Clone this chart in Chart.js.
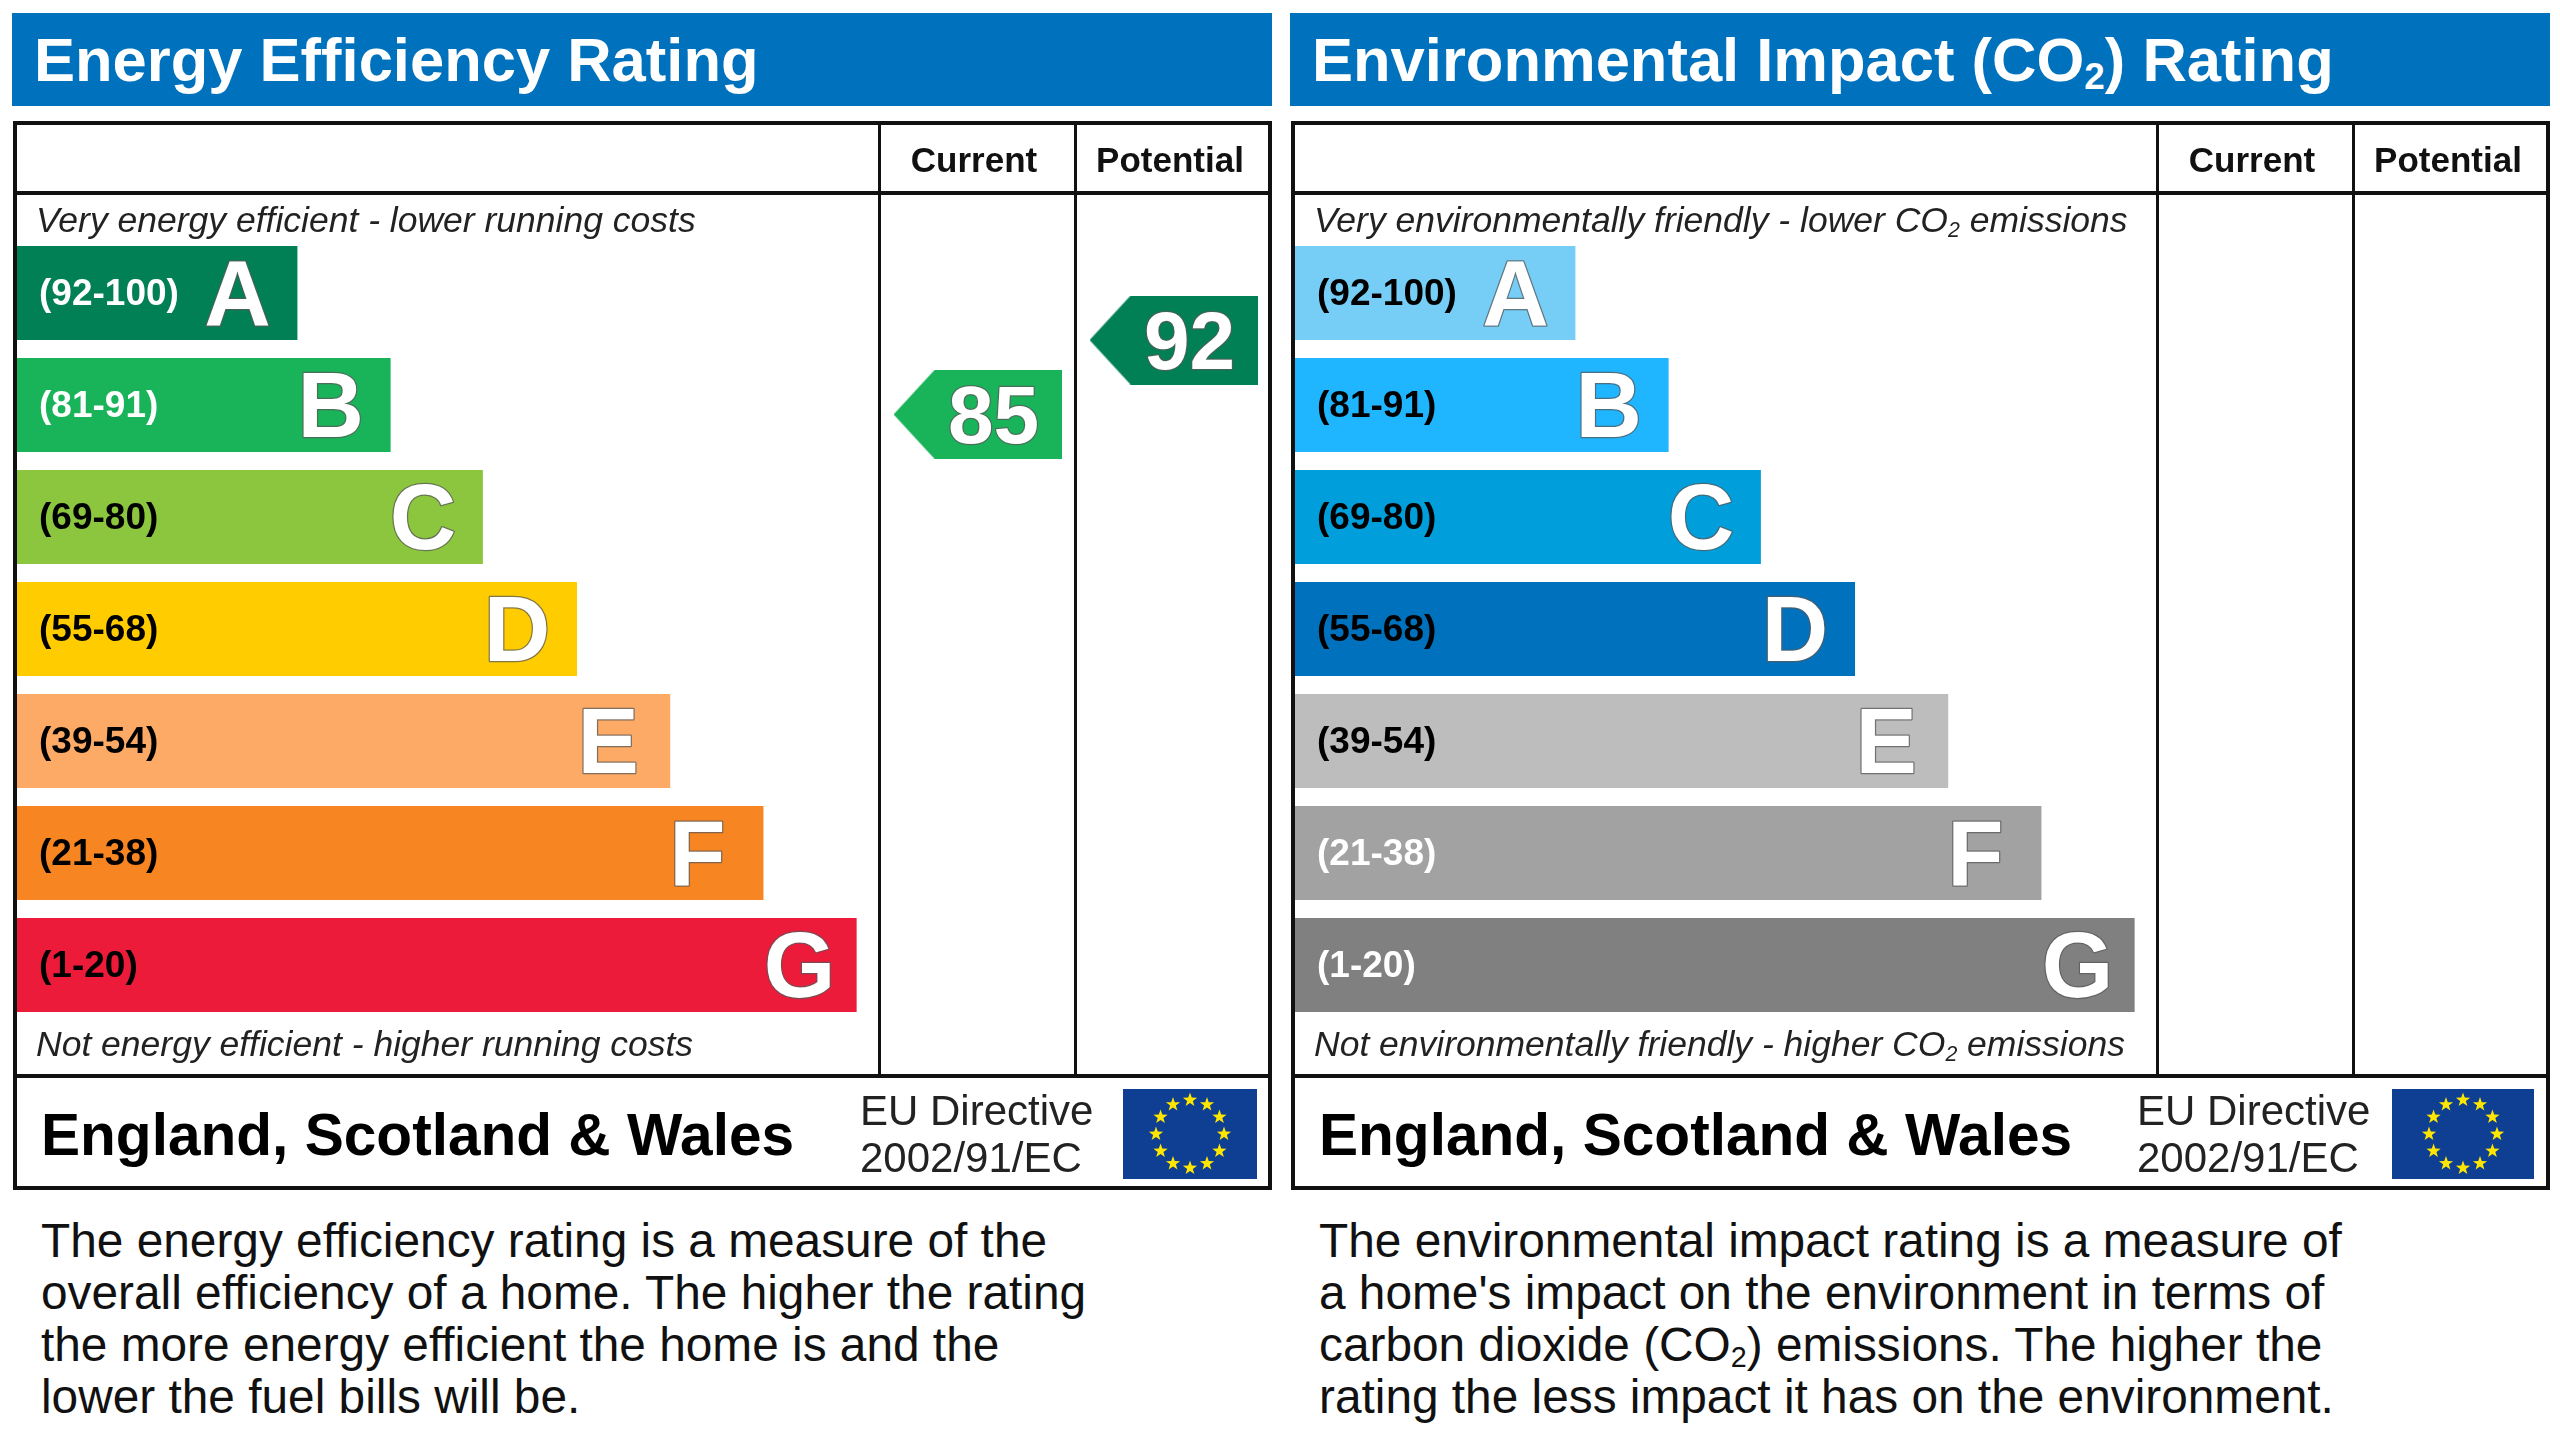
<!DOCTYPE html>
<html>
<head>
<meta charset="utf-8">
<title>Energy Efficiency and Environmental Impact Ratings</title>
<script src="https://cdn.jsdelivr.net/npm/chart.js@4"></script>
<style>
	html, body { margin: 0; background: #fff; overflow: hidden; }
	body { width: 2560px; height: 1434px; position: relative; font-family: "Liberation Sans", Arial, sans-serif; color: #111; }
	.panel { position: absolute; top: 0; left: 0; width: 1280px; height: 1434px; }
	.panel > * { position: absolute; }
	.band { left: 12px; top: 13px; width: 1260px; height: 93px; background: #0071bc; }
	.box { left: 13px; top: 121px; width: 1251px; height: 1061px; border: 4px solid #111; }
	.rule { background: #111; }
	.txt { white-space: nowrap; transform: translateY(-50%); line-height: 1; }
	.txt sub { font-size: 0.6em; line-height: 0; vertical-align: -0.22em; }
	.title { font-size: 61.5px; font-weight: bold; color: #fff; }
	.head { font-size: 35px; font-weight: bold; transform: translate(-50%, -50%); }
	.note { font-size: 35.5px; font-style: italic; color: #222; }
	.region { font-size: 58.6px; font-weight: bold; color: #000; }
	.directive { font-size: 42px; color: #222; }
	.body { font-size: 47.8px; color: #111; }
</style>
</head>
<body>
<script>
// Bands, same for both charts
const bandLetters = ['A', 'B', 'C', 'D', 'E', 'F', 'G'];
const bandRanges = ['(92-100)', '(81-91)', '(69-80)', '(55-68)', '(39-54)', '(21-38)', '(1-20)'];
const bandLow = [92, 81, 69, 55, 39, 21, 1];
const bandHigh = [100, 91, 80, 68, 54, 38, 20];
const bandLengths = [3.03, 4.03, 5.02, 6.03, 7.03, 8.03, 9.03];

const energyColors = ['#008054', '#19b459', '#8cc63f', '#ffcc00', '#fcaa65', '#f78521', '#ed1b3a'];
const energyLabelColors = ['#fff', '#fff', '#000', '#000', '#000', '#000', '#000'];
const co2Colors = ['#76cef6', '#1fb6ff', '#009edb', '#0071bc', '#bdbdbd', '#a2a2a2', '#808080'];
const co2LabelColors = ['#000', '#000', '#000', '#000', '#000', '#fff', '#fff'];

// Ratings shown in the arrows (the environmental chart has none)
const energyRatings = [85, 92];
const energyRatingColumns = ['Current', 'Potential'];
const co2Ratings = [];
const co2RatingColumns = [];

const columnHeads = ['Current', 'Potential'];
const regionText = 'England, Scotland &amp; Wales';
const directiveLines = ['EU Directive', '2002/91/EC'];

const energyTitle = 'Energy Efficiency Rating';
const energyTop = 'Very energy efficient - lower running costs';
const energyBottom = 'Not energy efficient - higher running costs';
const energyBody = [
	'The energy efficiency rating is a measure of the',
	'overall efficiency of a home. The higher the rating',
	'the more energy efficient the home is and the',
	'lower the fuel bills will be.'
];

const co2Title = 'Environmental Impact (CO<sub>2</sub>) Rating';
const co2Top = 'Very environmentally friendly - lower CO<sub>2</sub> emissions';
const co2Bottom = 'Not environmentally friendly - higher CO<sub>2</sub> emissions';
const co2Body = [
	'The environmental impact rating is a measure of',
	'a home\'s impact on the environment in terms of',
	'carbon dioxide (CO<sub>2</sub>) emissions. The higher the',
	'rating the less impact it has on the environment.'
];

const FONT = '"Liberation Sans", Arial, sans-serif';
const UNITS_WIDE = 13.465;
const BAR_SHARE = 0.84;
const columnCentre = { Current: 10.327, Potential: 12.43 };
const letterInset = [60, 60, 60, 60, 62, 66, 57];

function bandIndex(rating) {
	return bandLow.findIndex((low, i) => rating >= low && rating <= bandHigh[i]);
}

// Arrow position inside its band, bottom of the bar is the low end of the range
function ratingPosition(rating) {
	const i = bandIndex(rating);
	const share = (rating - bandLow[i]) / (bandHigh[i] - bandLow[i]);
	return i + BAR_SHARE / 2 - share * BAR_SHARE;
}

function arrowSprite(color) {
	const sprite = document.createElement('canvas');
	sprite.width = 168;
	sprite.height = 89;
	const ctx = sprite.getContext('2d');
	ctx.fillStyle = color;
	ctx.beginPath();
	ctx.moveTo(0, 44.5);
	ctx.lineTo(41, 0);
	ctx.lineTo(168, 0);
	ctx.lineTo(168, 89);
	ctx.lineTo(41, 89);
	ctx.closePath();
	ctx.fill();
	return sprite;
}

function outlinedText(ctx, text, x, y) {
	ctx.lineJoin = 'round';
	ctx.lineWidth = 2.5;
	ctx.strokeStyle = 'rgba(90,90,90,0.75)';
	ctx.fillStyle = '#fff';
	ctx.strokeText(text, x, y);
	ctx.fillText(text, x, y);
}

// Big letters on the bars and numbers in the arrows
const markLabels = {
	id: 'markLabels',
	afterDatasetsDraw(chart) {
		const ctx = chart.ctx;
		ctx.save();
		ctx.textBaseline = 'middle';
		ctx.textAlign = 'center';
		ctx.font = 'bold 92px ' + FONT;
		chart.getDatasetMeta(0).data.forEach((bar, i) => {
			outlinedText(ctx, bandLetters[i], bar.x - letterInset[i], bar.y + 7);
		});
		ctx.font = 'bold 82px ' + FONT;
		const ratings = chart.data.datasets[1].data;
		chart.getDatasetMeta(1).data.forEach((point, i) => {
			outlinedText(ctx, String(ratings[i].rating), point.x + 16, point.y + 6);
		});
		ctx.restore();
	}
};

function drawChart(parent, colors, labelColors, ratings, columns) {
	const canvas = document.createElement('canvas');
	canvas.width = 1255;
	canvas.height = 784;
	canvas.style.cssText = 'left:15px;top:237px;width:1255px;height:784px';
	parent.appendChild(canvas);

	new Chart(canvas, {
		type: 'bar',
		plugins: [markLabels],
		data: {
			labels: bandRanges,
			datasets: [{
				indexAxis: 'y',
				data: bandLengths,
				backgroundColor: colors,
				borderWidth: 0,
				barPercentage: BAR_SHARE,
				categoryPercentage: 1,
				xAxisID: 'x',
				yAxisID: 'y'
			}, {
				type: 'scatter',
				data: ratings.map((rating, i) => ({
					x: columnCentre[columns[i]],
					y: ratingPosition(rating),
					rating: rating
				})),
				pointStyle: ratings.map(rating => arrowSprite(colors[bandIndex(rating)])),
				xAxisID: 'x',
				yAxisID: 'yRating'
			}]
		},
		options: {
			responsive: false,
			animation: false,
			layout: { padding: 0, autoPadding: false },
			plugins: {
				legend: { display: false },
				title: { display: false },
				tooltip: { enabled: false }
			},
			scales: {
				x: { type: 'linear', display: false, offset: false, min: 0, max: UNITS_WIDE },
				y: {
					type: 'category',
					position: 'left',
					offset: true,
					// labels sit inside the bars, so the axis takes no room
					afterFit: scale => {
						scale.width = 0;
						scale.paddingTop = 0;
						scale.paddingBottom = 0;
						scale._margins.top = 0;
						scale._margins.bottom = 0;
					},
					border: { display: false },
					grid: { display: false },
					ticks: {
						mirror: true,
						padding: 24,
						labelOffset: 2,
						z: 1,
						autoSkip: false,
						font: { family: FONT, size: 37, weight: 'bold' },
						color: ctx => labelColors[ctx.index]
					}
				},
				yRating: { type: 'linear', display: false, offset: false, reverse: true, min: -0.5, max: 6.5 }
			}
		}
	});
}

function addText(parent, cls, html, x, y) {
	const el = document.createElement('div');
	el.className = 'txt ' + cls;
	el.innerHTML = html;
	el.style.left = x + 'px';
	el.style.top = y + 'px';
	parent.appendChild(el);
}

function addRule(parent, x, y, w, h) {
	const el = document.createElement('div');
	el.className = 'rule';
	el.style.cssText = `left:${x}px;top:${y}px;width:${w}px;height:${h}px`;
	parent.appendChild(el);
}

function drawFlag(parent, x, w) {
	const flag = document.createElement('canvas');
	flag.width = w;
	flag.height = 90;
	flag.style.cssText = `left:${x}px;top:1089px;width:${w}px;height:90px`;
	parent.appendChild(flag);
	const ctx = flag.getContext('2d');
	ctx.fillStyle = '#0f3f92';
	ctx.fillRect(0, 0, w, 90);
	ctx.fillStyle = '#ffe600';
	for (let s = 0; s < 12; s++) {
		const a = s * Math.PI / 6;
		const cx = w / 2 + 34 * Math.sin(a);
		const cy = 45 - 34 * Math.cos(a);
		ctx.beginPath();
		for (let p = 0; p < 10; p++) {
			const r = p % 2 ? 3 : 7.5;
			const b = p * Math.PI / 5;
			ctx.lineTo(cx + r * Math.sin(b), cy - r * Math.cos(b));
		}
		ctx.closePath();
		ctx.fill();
	}
}

function buildPanel(cfg) {
	const panel = document.createElement('div');
	panel.className = 'panel';
	panel.style.left = cfg.offset + 'px';
	document.body.appendChild(panel);

	const band = document.createElement('div');
	band.className = 'band';
	panel.appendChild(band);
	addText(panel, 'title', cfg.title, 34, 60);

	drawChart(panel, cfg.colors, cfg.labelColors, cfg.ratings, cfg.columns);

	const box = document.createElement('div');
	box.className = 'box';
	panel.appendChild(box);
	addRule(panel, 13, 191, 1258, 4);
	addRule(panel, 878, 121, 3, 955);
	addRule(panel, 1074, 121, 3, 955);
	addRule(panel, 13, 1074, 1258, 4);

	addText(panel, 'head', columnHeads[0], 974, 159);
	addText(panel, 'head', columnHeads[1], 1170, 159);
	addText(panel, 'note', cfg.top, 36, 221);
	addText(panel, 'note', cfg.bottom, 36, 1045);

	addText(panel, 'region', regionText, 41, 1135);
	addText(panel, 'directive', directiveLines[0], cfg.directiveX, 1111);
	addText(panel, 'directive', directiveLines[1], cfg.directiveX, 1158);
	drawFlag(panel, cfg.flagX, cfg.flagW);

	cfg.body.forEach((line, i) => addText(panel, 'body', line, 41, 1241 + i * 52));
}

buildPanel({
	offset: 0, title: energyTitle, top: energyTop, bottom: energyBottom, body: energyBody,
	colors: energyColors, labelColors: energyLabelColors,
	ratings: energyRatings, columns: energyRatingColumns,
	directiveX: 860, flagX: 1123, flagW: 134
});
buildPanel({
	offset: 1278, title: co2Title, top: co2Top, bottom: co2Bottom, body: co2Body,
	colors: co2Colors, labelColors: co2LabelColors,
	ratings: co2Ratings, columns: co2RatingColumns,
	directiveX: 859, flagX: 1114, flagW: 142
});
</script>
</body>
</html>
